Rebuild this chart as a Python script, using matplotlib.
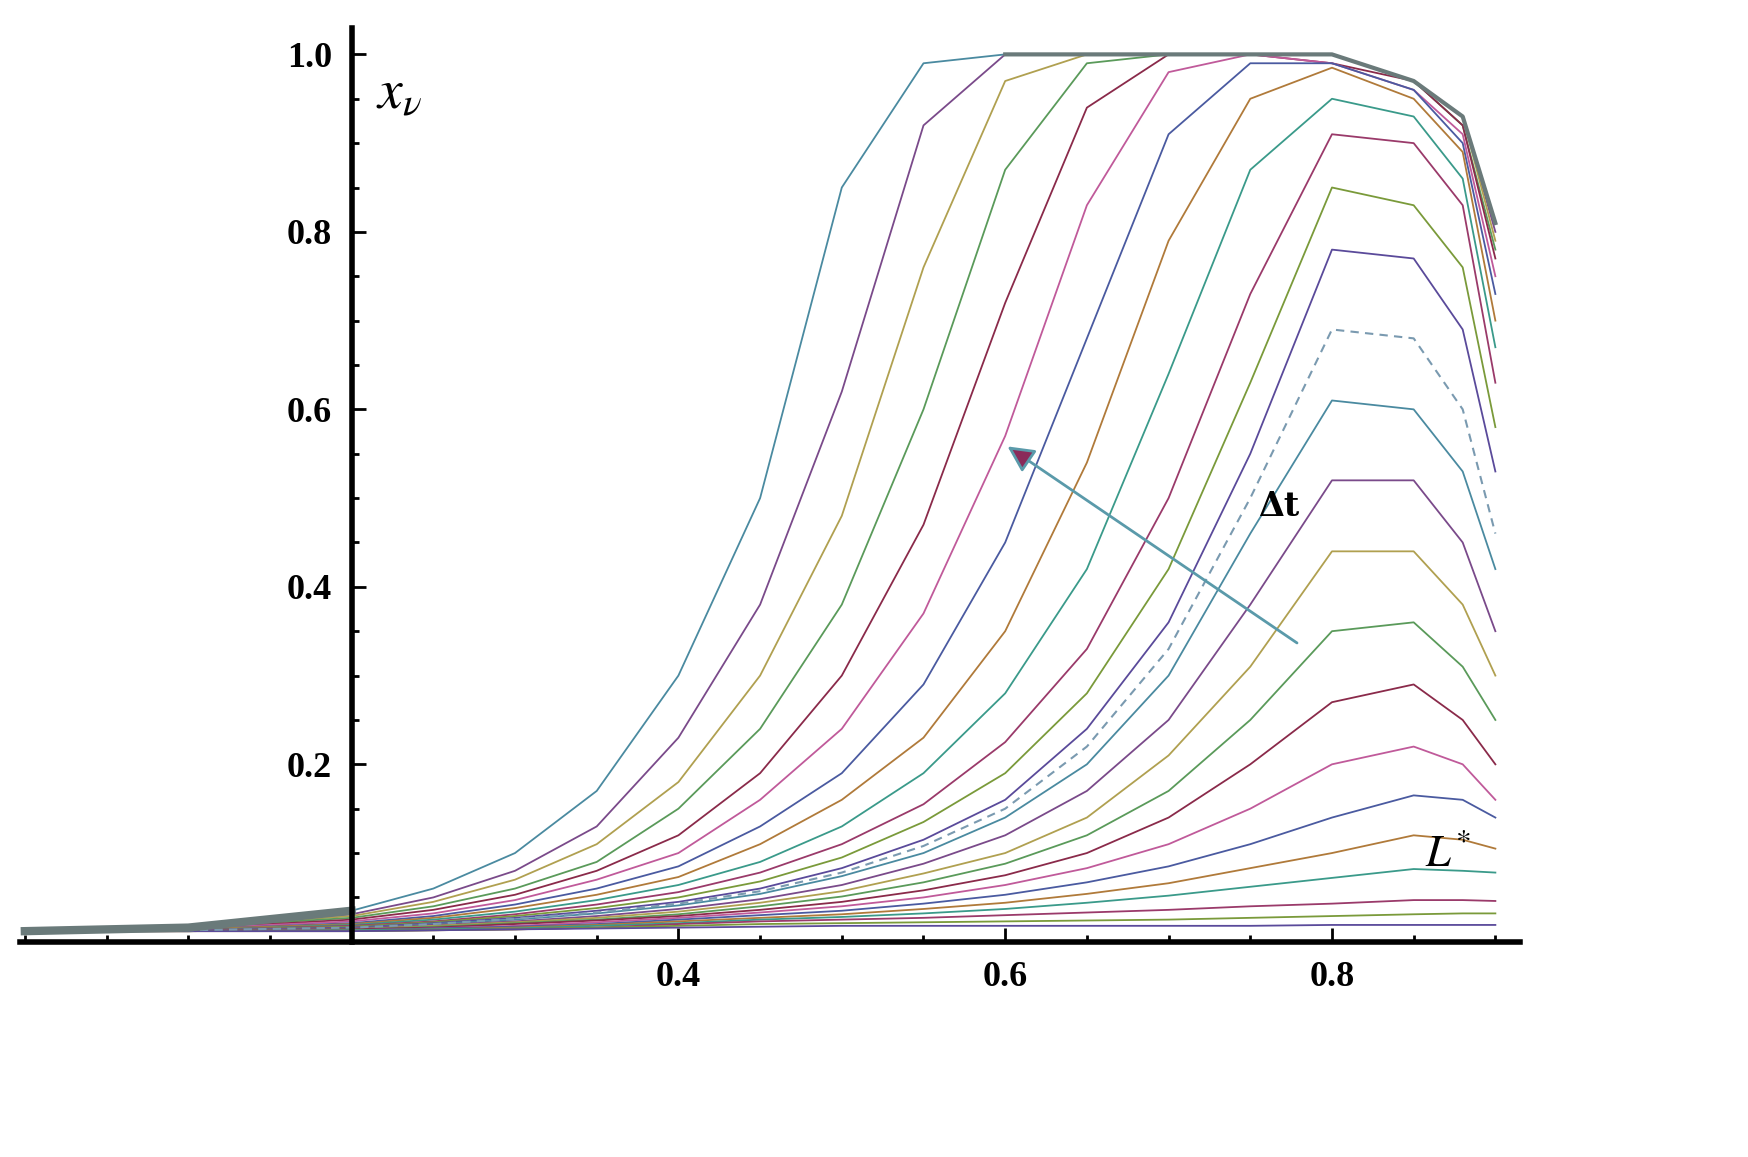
import numpy as np
import matplotlib.pyplot as plt
from matplotlib.ticker import MultipleLocator

plt.rcParams['mathtext.fontset'] = 'stix'

# x sample positions shared by every curve
x_pts = [0.0, 0.1, 0.2, 0.25, 0.3, 0.35, 0.4, 0.45, 0.5, 0.55, 0.6, 0.65, 0.7, 0.75, 0.8, 0.85, 0.88, 0.9]

# curves that saturate at 1.0
sat_curves = [
    [.012, .016, .035, .06, .10, .17, .30, .50, .85, .99, 1.0, 1.0, 1.0, 1.0, 1.0, .97, .93, .81],
    [.012, .016, .031, .05, .08, .13, .23, .38, .62, .92, 1.0, 1.0, 1.0, 1.0, 1.0, .97, .93, .80],
    [.012, .016, .029, .045, .07, .11, .18, .30, .48, .76, .97, 1.0, 1.0, 1.0, 1.0, .97, .93, .79],
    [.012, .016, .027, .04, .06, .09, .15, .24, .38, .60, .87, .99, 1.0, 1.0, 1.0, .97, .92, .78],
    [.012, .015, .025, .036, .053, .08, .12, .19, .30, .47, .72, .94, 1.0, 1.0, .99, .97, .92, .77],
    [.012, .015, .023, .032, .047, .07, .10, .16, .24, .37, .57, .83, .98, 1.0, .99, .96, .91, .75],
    [.012, .014, .021, .029, .042, .06, .085, .13, .19, .29, .45, .68, .91, .99, .99, .96, .90, .73],
    [.012, .014, .02, .027, .038, .053, .073, .11, .16, .23, .35, .54, .79, .95, .985, .95, .89, .70],
    [.012, .013, .019, .025, .034, .047, .064, .09, .13, .19, .28, .42, .64, .87, .95, .93, .86, .67],
    [.012, .013, .018, .023, .031, .042, .056, .078, .11, .155, .225, .33, .50, .73, .91, .90, .83, .63],
]

# curves peaking near x = 0.82
peak_curves = [
    [.012, .013, .017, .022, .029, .038, .05, .068, .095, .135, .19, .28, .42, .63, .85, .83, .76, .58],
    [.012, .013, .016, .021, .027, .035, .045, .06, .083, .115, .16, .24, .36, .55, .78, .77, .69, .53],
    [.012, .013, .015, .02, .025, .032, .041, .054, .074, .10, .14, .20, .30, .46, .61, .60, .53, .42],
    [.012, .013, .015, .019, .023, .029, .037, .048, .064, .088, .12, .17, .25, .38, .52, .52, .45, .35],
    [.012, .012, .014, .018, .022, .027, .034, .044, .057, .077, .10, .14, .21, .31, .44, .44, .38, .30],
    [.012, .012, .014, .017, .021, .025, .031, .04, .051, .067, .088, .12, .17, .25, .35, .36, .31, .25],
    [.012, .012, .014, .016, .02, .024, .029, .036, .045, .058, .075, .10, .14, .20, .27, .29, .25, .20],
    [.012, .012, .013, .015, .018, .022, .027, .033, .04, .05, .064, .083, .11, .15, .20, .22, .20, .16],
    [.012, .012, .013, .015, .017, .02, .025, .03, .035, .043, .053, .067, .085, .11, .14, .165, .16, .14],
    [.012, .012, .013, .014, .016, .019, .023, .027, .031, .037, .044, .054, .066, .083, .10, .12, .115, .105],
    [.012, .012, .013, .014, .015, .018, .021, .025, .028, .032, .037, .044, .052, .062, .072, .082, .08, .078],
    [.012, .012, .012, .013, .014, .016, .02, .023, .025, .027, .03, .033, .036, .04, .043, .047, .047, .046],
    [.012, .012, .012, .013, .014, .016, .018, .02, .021, .022, .023, .024, .025, .027, .029, .031, .032, .032],
    [.012, .012, .012, .013, .014, .015, .016, .017, .018, .018, .018, .018, .018, .018, .019, .019, .019, .019],
]
# dashed curve (L*)
dashed_curve = [.012, .013, .016, .02, .026, .033, .043, .057, .078, .108, .15, .22, .33, .50, .69, .68, .60, .46]

palette = ['#4a8aa0', '#7a4a8a', '#b0a050', '#5a9a5a', '#8a2a4a', '#c05a9a',
           '#4a5aa0', '#b07a3a', '#3a9a8a', '#9a3a6a', '#7a9a3a', '#5a4a9a']

fig = plt.figure(figsize=(17.49, 11.57), dpi=100)
ax = fig.add_axes([0.0114, 0.186, 0.8576, 0.79])

for i, y in enumerate(sat_curves + peak_curves):
    ax.plot(x_pts, y, color=palette[i % len(palette)], lw=1.3)
ax.plot(x_pts, dashed_curve, color='#7a9ab0', lw=1.5, ls=(0, (4, 3)))
# thick grey envelope on the left and along the top
ax.plot(x_pts[:3], [0.012, 0.016, 0.035], color='#6a7a7a', lw=6)
ax.plot(x_pts[10:], [1.0, 1.0, 1.0, 1.0, 1.0, .97, .93, .81], color='#6a7a7a', lw=3)

ax.annotate('', xy=(0.60, 0.56), xytext=(0.78, 0.335),
            arrowprops=dict(arrowstyle='-|>', color='#5a9aaa', lw=2,
                            mutation_scale=40, fc='#8a2a5a', ec='#5a9aaa'))
ax.text(0.755, 0.48, 'Δt', fontsize=24, fontweight='bold', family='DejaVu Serif')
ax.text(0.857, 0.085, r'$L^{*}$', fontsize=32)
ax.text(0.215, 0.94, r'$x_\nu$', fontsize=40)

ax.set_xlim(-0.003, 0.915)
ax.set_ylim(0, 1.03)
ax.spines['left'].set_position(('data', 0.2))
ax.spines['bottom'].set_position(('data', 0))
for s in ['top', 'right']:
    ax.spines[s].set_visible(False)
for s in ['left', 'bottom']:
    ax.spines[s].set_linewidth(4)
ax.set_xticks([0.4, 0.6, 0.8])
ax.set_yticks([0.2, 0.4, 0.6, 0.8, 1.0])
ax.set_yticklabels(['0.2', '0.4', '0.6', '0.8', '1.0'])
ax.xaxis.set_minor_locator(MultipleLocator(0.05))
ax.yaxis.set_minor_locator(MultipleLocator(0.05))
ax.tick_params(which='major', length=10, width=2, direction='in', labelsize=26, pad=14)
ax.tick_params(which='minor', length=5, width=2, direction='in')
for lab in ax.get_xticklabels() + ax.get_yticklabels():
    lab.set_fontfamily('Liberation Serif')
    lab.set_fontweight('bold')

fig.savefig('out.png', dpi=100)
